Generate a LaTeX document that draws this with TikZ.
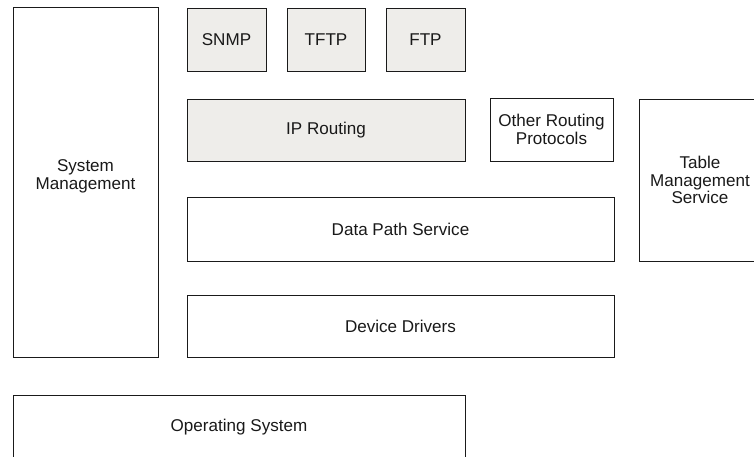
\documentclass[tikz,border=0pt]{standalone}
\usepackage{fontspec}
\setmainfont{Liberation Sans}
\usetikzlibrary{fit}
\definecolor{boxfill}{HTML}{EEEDEA}
\definecolor{boxline}{HTML}{1A1A1A}
\begin{document}
\begin{tikzpicture}[x=0.75pt,y=-0.75pt,
  blk/.style={draw=boxline, line width=0.75pt, inner sep=0pt},
  shaded/.style={blk, fill=boxfill},
  txt/.style={inner sep=0pt, align=center, font=\fontsize{12.8}{13.4}\selectfont, text=black!90}]
\useasboundingbox (0,0) rectangle (754,457);
\node[blk, fit={(13,7)(158,357)}] (sysm) {};
\node[shaded, fit={(187,8)(266,71)}] (snmp) {};
\node[shaded, fit={(287,8)(365,71)}] (tftp) {};
\node[shaded, fit={(386,8)(465,71)}] (ftp) {};
\node[shaded, fit={(187,99)(465,161)}] (iprt) {};
\node[blk, fit={(490,98)(613,161)}] (other) {};
\node[blk, fit={(639,99)(761,261)}] (table) {};
\node[blk, fit={(187,197)(614,261)}] (dps) {};
\node[blk, fit={(187,295)(614,357)}] (dd) {};
\node[blk, fit={(13,395)(465,459)}] (os) {};
\node[txt] (sysmt) at (85.5,176) {System\\Management};
\node[txt] (snmpt) at (snmp.center) {SNMP};
\node[txt] (tftpt) at (tftp.center) {TFTP};
\node[txt] (ftpt) at (ftp.center) {FTP};
\node[txt] (iprtt) at (iprt.center) {IP Routing};
\node[txt] (othert) at (other.center) {Other Routing\\Protocols};
\node[txt] (tablet) at (table.center) {Table\\Management\\Service};
\node[txt] (dpst) at (dps.center) {Data Path Service};
\node[txt] (ddt) at (dd.center) {Device Drivers};
\node[txt] (ost) at (os.center) {Operating System};
\end{tikzpicture}
\end{document}
